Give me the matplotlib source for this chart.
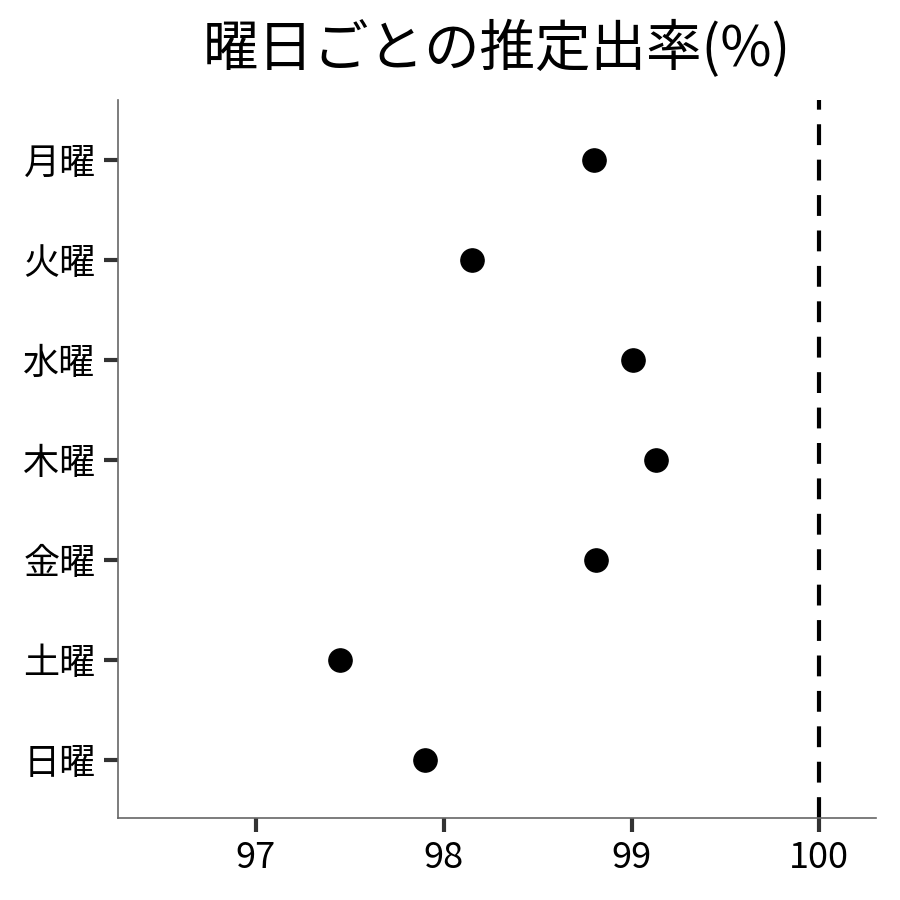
import matplotlib
matplotlib.use("Agg")
import matplotlib.pyplot as plt

# 曜日ごとの推定出率
days = ["月曜", "火曜", "水曜", "木曜", "金曜", "土曜", "日曜"]
rates = [98.80, 98.15, 99.01, 99.13, 98.81, 97.45, 97.90]
ref_line = 100
x_ticks = [97, 98, 99, 100]

plt.rcParams['font.family'] = ['Noto Sans CJK JP', 'DejaVu Sans']

fig = plt.figure(figsize=(9, 9), dpi=100)
ax = fig.add_axes([0.131, 0.091, 0.842, 0.798])

ypos = list(range(len(days)))[::-1]
ax.scatter(rates, ypos, s=280, color="black", zorder=3)
ax.axvline(ref_line, color="black", linestyle=(0, (5, 3.5)), linewidth=3)

ax.set_xlim(96.265, 100.30)
ax.set_ylim(-0.58, 6.6)
ax.set_xticks(x_ticks)
ax.set_xticklabels([str(t) for t in x_ticks])
ax.set_yticks(ypos)
ax.set_yticklabels(days)

for s in ["top", "right"]:
    ax.spines[s].set_visible(False)
for s in ["left", "bottom"]:
    ax.spines[s].set_color("#666666")
    ax.spines[s].set_linewidth(1.2)

ax.tick_params(axis="both", length=10, width=3, color="#333333",
               labelsize=26, labelcolor="black", pad=6)

ax.set_title("曜日ごとの推定出率(%)", fontsize=40, pad=24)

fig.savefig("out.png", dpi=100)
